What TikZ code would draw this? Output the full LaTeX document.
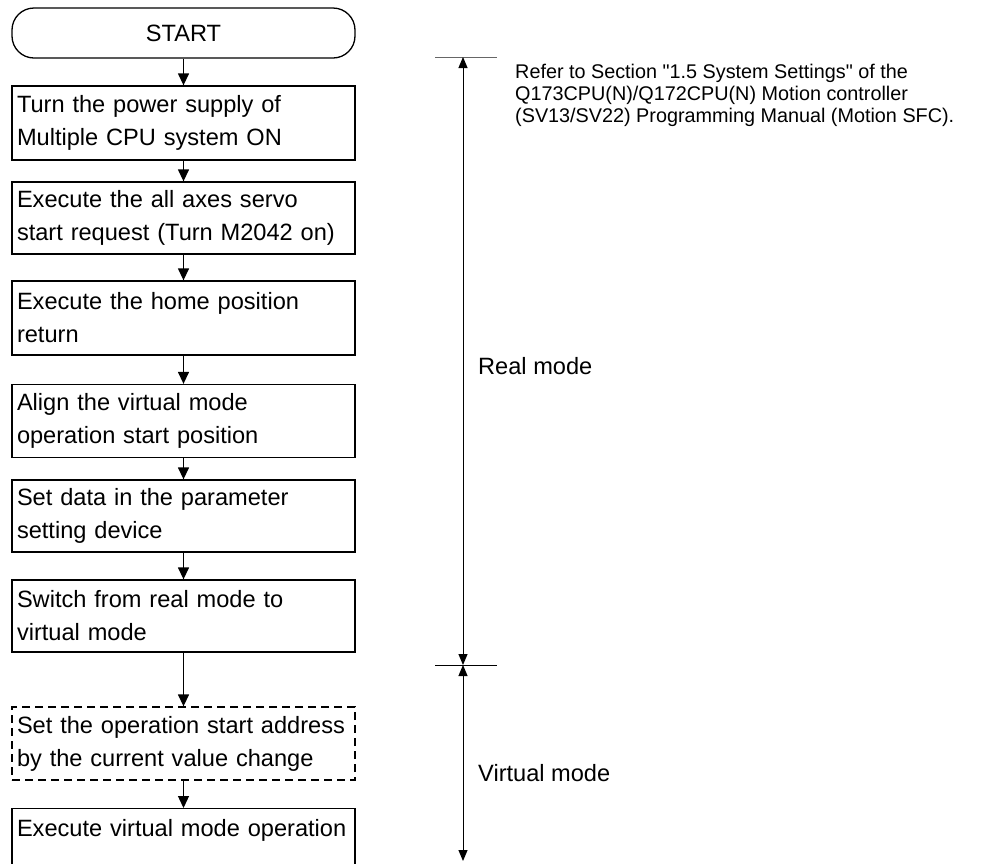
\documentclass[tikz,border=0pt]{standalone}
\usepackage{fontspec}
\setmainfont{Liberation Sans}
\usetikzlibrary{arrows.meta}
\hyphenpenalty=10000
\exhyphenpenalty=10000
\begin{document}
\begin{tikzpicture}[x=1pt,y=-1pt,
  box/.style={draw, line width=1.3pt, minimum width=343pt, text width=333pt, inner xsep=5pt, align=left, font=\fontsize{23.6}{33}\selectfont},
  dbox/.style={box, dash pattern=on 8pt off 5pt},
  term/.style={draw, line width=1.3pt, minimum width=343pt, minimum height=50pt, rounded corners=22pt, font=\fontsize{23.6}{28}\selectfont},
  arr/.style={line width=1.3pt, -{Triangle[length=12pt,width=11pt]}},
  dim/.style={line width=1pt, {Triangle[length=11pt,width=9pt]}-{Triangle[length=11pt,width=9pt]}},
  tick/.style={line width=1pt, draw=black!60},
  lab/.style={font=\fontsize{23.6}{28}\selectfont, anchor=west, inner sep=0pt},
  note/.style={font=\fontsize{19.8}{22}\selectfont, align=left, anchor=west, inner sep=0pt}
]
\useasboundingbox (0,0) rectangle (994,863);
\fill[white] (0,0) rectangle (994,863);

\node[term] (start) at (183.5,33) {START};
\node[box, minimum height=74pt] (b1) at (183.5,123) {Turn the power supply of\\Multiple CPU system ON};
\node[box, minimum height=72pt] (b2) at (183.5,218) {Execute the all axes servo\\start request (Turn M2042 on)};
\node[box, minimum height=74pt] (b3) at (183.5,318) {Execute the home position\\return};
\node[box, minimum height=73pt] (b4) at (183.5,421) {Align the virtual mode\\operation start position};
\node[box, minimum height=72pt] (b5) at (183.5,516) {Set data in the parameter\\setting device};
\node[box, minimum height=72pt] (b6) at (183.5,616) {Switch from real mode to\\virtual mode};
\node[dbox, minimum height=73pt] (b7) at (183.5,743.5) {Set the operation start address\\by the current value change};
\node[box, minimum height=72pt, anchor=north] (b8) at (183.5,808) {Execute virtual mode operation\\\mbox{}};

\draw[arr] (start) -- (b1);
\draw[arr] (b1) -- (b2);
\draw[arr] (b2) -- (b3);
\draw[arr] (b3) -- (b4);
\draw[arr] (b4) -- (b5);
\draw[arr] (b5) -- (b6);
\draw[arr] (b6) -- (b7);
\draw[arr] (b7) -- (b8);

\coordinate (d1) at (463,57);
\coordinate (d2) at (463,665);
\coordinate (d3) at (463,861);
\coordinate (d1l) at (435,57);
\coordinate (d1r) at (497,57);
\coordinate (d2l) at (435,665);
\coordinate (d2r) at (497,665);
\draw[tick] (d1l) -- (d1r);
\draw[line width=1pt] (d2l) -- (d2r);
\draw[dim] (d1) -- (d2);
\draw[dim] (d2) -- (d3);

\node[lab] (real) at (478,366) {Real mode};
\node[lab] (virt) at (478,773) {Virtual mode};
\node[note] (ref) at (515,95) {Refer to Section \textquotedbl 1.5 System Settings\textquotedbl{} of the\\Q173CPU(N)/Q172CPU(N) Motion controller\\(SV13/SV22) Programming Manual (Motion SFC).};
\end{tikzpicture}
\end{document}
